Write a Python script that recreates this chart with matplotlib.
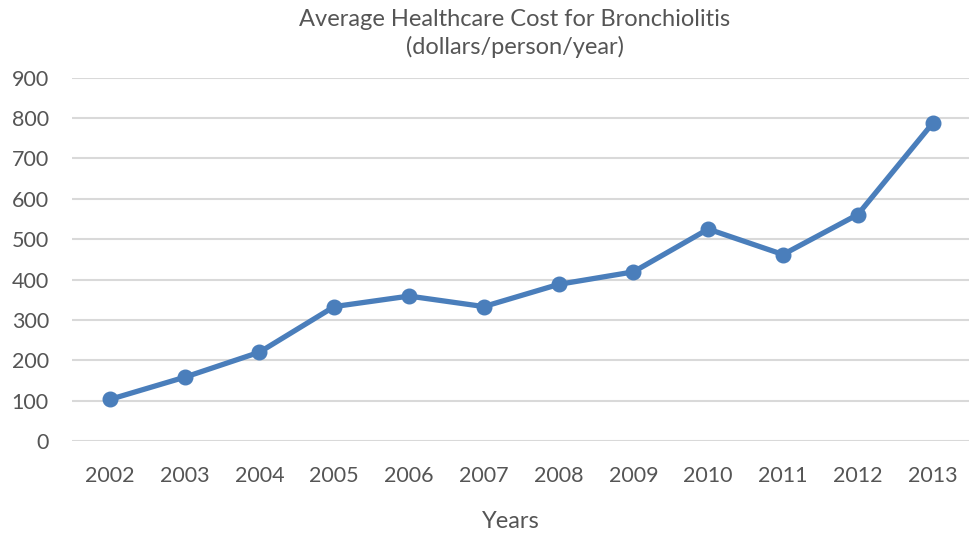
import matplotlib
matplotlib.use("Agg")
import matplotlib.pyplot as plt

years = ["2002", "2003", "2004", "2005", "2006", "2007",
         "2008", "2009", "2010", "2011", "2012", "2013"]
cost = [103, 158, 220, 333, 359, 333, 388, 419, 525, 462, 561, 787]
y_ticks = [0, 100, 200, 300, 400, 500, 600, 700, 800, 900]

text_color = "#555555"
line_color = "#4a7ebb"
grid_color = "#d9d9d9"

plt.rcParams["font.family"] = ["Lato", "DejaVu Sans"]

fig = plt.figure(figsize=(9.70, 5.34), dpi=100)
W, H = 970, 534
ax = fig.add_axes([72.5 / W, 1 - 441 / H, (970 - 72.5) / W, (441 - 77.7) / H])

x = list(range(len(years)))
ax.plot(x, cost, color=line_color, linewidth=3.8, marker="o",
        markersize=10.5, solid_capstyle="round", zorder=3, clip_on=False)

ax.set_xlim(-0.5, len(years) - 0.5)
ax.set_ylim(0, 900)
ax.set_yticks(y_ticks)
ax.set_xticks(x)
ax.set_xticklabels(years)

ax.grid(axis="y", color=grid_color, linewidth=1.5, zorder=0)
ax.set_axisbelow(True)
for s in ax.spines.values():
    s.set_visible(False)
ax.tick_params(axis="both", length=0, colors=text_color, labelsize=15.5)
ax.tick_params(axis="y", pad=17)
ax.tick_params(axis="x", pad=18)

fig.text(511 / W, 1 - 522 / H, "Years", ha="center", va="center",
         fontsize=17, color=text_color)
fig.text(515 / W, 1 - 20 / H, "Average Healthcare Cost for Bronchiolitis",
         ha="center", va="center", fontsize=17, color=text_color)
fig.text(515 / W, 1 - 47 / H, "(dollars/person/year)",
         ha="center", va="center", fontsize=17, color=text_color)

fig.savefig("out.png", dpi=100)
